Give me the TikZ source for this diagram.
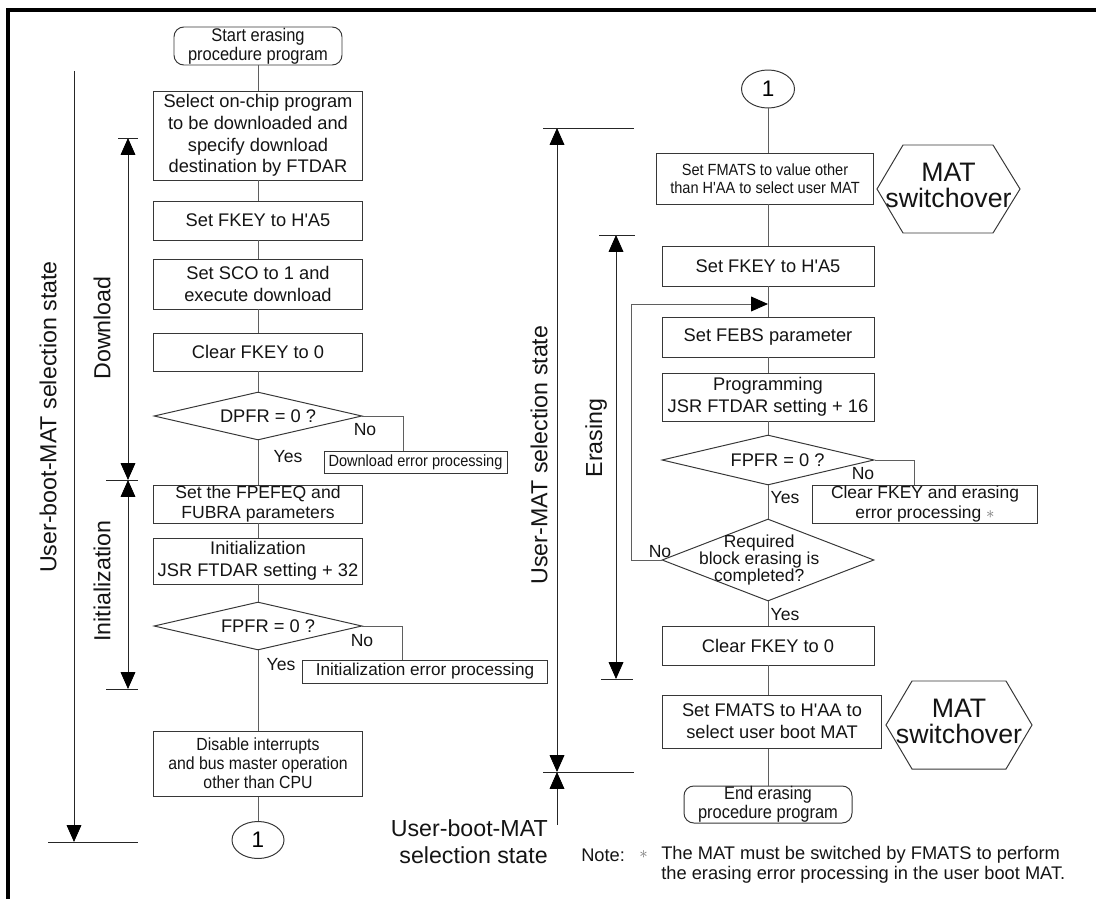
\documentclass[tikz,border=0pt]{standalone}
\usepackage{fontspec}
\setmainfont{Liberation Sans}[Ligatures=TeXOff]
\newfontfamily\narrowfont[FakeStretch=0.9,Ligatures=TeXOff]{Liberation Sans}
\usetikzlibrary{arrows.meta,shapes.geometric}

\definecolor{boxgray}{RGB}{55,55,55}
\definecolor{flowgray}{RGB}{95,95,95}
\definecolor{txtblack}{RGB}{20,20,20}

% one pixel of the reference
\newcommand\pxu{0.025cm}
\newcommand\boxtxt{\fontsize{13}{15.4}\selectfont}
\newcommand\bigtxt{\fontsize{16.5}{19.2}\selectfont}
\newcommand\hextxt{\fontsize{19}{18.5}\selectfont}

\tikzset{
  bw/.style={minimum width=#1*\pxu},
  bh/.style={minimum height=#1*\pxu},
  proc/.style={draw=boxgray, line width=0.7pt, rectangle, align=center,
    inner sep=0pt, font=\boxtxt, text=txtblack},
  term/.style={proc, rounded corners=7pt,
    font=\narrowfont\fontsize{13}{13.6}\selectfont},
  decide/.style={draw=boxgray, line width=0.7pt, diamond, aspect=4, inner sep=0pt},
  dtxt/.style={font=\boxtxt, align=center, inner sep=0pt, text=txtblack},
  conn/.style={draw=boxgray, line width=0.7pt, ellipse, inner sep=0pt,
    font=\fontsize{16}{16}\selectfont},
  flow/.style={draw=flowgray, line width=0.7pt},
  dim/.style={draw=black!85, line width=0.6pt},
  yn/.style={font=\fontsize{12.5}{12.5}\selectfont, inner sep=0pt, text=txtblack},
  side/.style={font=\bigtxt, rotate=90, inner sep=0pt, text=txtblack},
  >={Triangle[length=12pt,width=10.5pt,black]}
}

\begin{document}
\begin{tikzpicture}[x=0.025cm, y=-0.025cm]

  \useasboundingbox (0,0) rectangle (1096,899);

  % frame: only top and left edges
  \draw[line width=2.2pt] (8,899) -- (8,10) -- (1096,10);

  % left column
  \node[term, bw=168, bh=38] (start) at (258,46) {Start erasing\\procedure program};
  \node[proc, bw=209, bh=89] (selprog) at (258,135.5)
    {Select on-chip program\\to be downloaded and\\specify download\\destination by FTDAR};
  \node[proc, bw=209, bh=39] (fkeya) at (258,220.5) {Set FKEY to H'A5};
  \node[proc, bw=209, bh=50] (sco) at (258,284) {Set SCO to 1 and\\execute download};
  \node[proc, bw=209, bh=38] (clra) at (258,352) {Clear FKEY to 0};
  \node[decide, bw=208, bh=48] (dpfr) at (258,416) {};
  \node[dtxt] (dpfrtxt) at ([xshift=0.25cm]dpfr.center) {DPFR = 0 ?};
  \node[proc, bw=183, bh=22, font=\narrowfont\fontsize{11.5}{13}\selectfont]
    (dlerr) at (415.5,462) {Download error processing};
  \node[proc, bw=209, bh=38, font=\fontsize{12.5}{14.2}\selectfont]
    (fpefeq) at (258,504) {Set the FPEFEQ and\\FUBRA parameters};
  \node[proc, bw=209, bh=46] (initz) at (258,561) {Initialization\\JSR FTDAR setting + 32};
  \node[decide, bw=208, bh=48] (fpfra) at (258,626) {};
  \node[dtxt] (fpfratxt) at ([xshift=0.25cm]fpfra.center) {FPFR = 0 ?};
  \node[proc, bw=245, bh=23, font=\fontsize{12.2}{13}\selectfont]
    (initerr) at (425,671.5) {Initialization error processing};
  \node[proc, bw=209, bh=65, font=\narrowfont\fontsize{12.5}{13.5}\selectfont]
    (disint) at (258,763.5) {Disable interrupts\\and bus master operation\\other than CPU};
  \node[conn, bw=52, bh=37] (onea) at (258,840) {1};

  \draw[flow] (start) -- (selprog) -- (fkeya) -- (sco) -- (clra) -- (dpfr);
  \draw[flow] (dpfr) -- (fpefeq) -- (initz) -- (fpfra) -- (disint) -- (onea);
  \draw[flow] (dpfr.east) -| ([xshift=-0.3125cm]dlerr.north);
  \draw[flow] (fpfra.east) -| ([xshift=-0.5625cm]initerr.north);

  \node[yn] (dpfrno) at (365,430) {No};
  \node[yn] (dpfryes) at (288,457) {Yes};
  \node[yn] (fpfrano) at (362,641) {No};
  \node[yn] (fpfrayes) at (281,665) {Yes};

  % right column
  \node[conn, bw=53, bh=38] (oneb) at (768,89) {1};
  \node[proc, bw=217, bh=51, font=\narrowfont\fontsize{11.5}{12.8}\selectfont]
    (fmatsa) at (765,178.5) {Set FMATS to value other\\than H'AA to select user MAT};
  \node[proc, bw=212, bh=40] (fkeyb) at (768,266) {Set FKEY to H'A5};
  \node[proc, bw=212, bh=40] (febs) at (768,337) {Set FEBS parameter};
  \node[proc, bw=212, bh=48] (progr) at (768,397) {Programming\\JSR FTDAR setting + 16};
  \node[decide, bw=212, bh=50] (fpfrb) at (768,460) {};
  \node[dtxt] (fpfrbtxt) at ([xshift=0.24cm]fpfrb.center) {FPFR = 0 ?};
  \node[proc, bw=225, bh=38, font=\fontsize{12.4}{13.7}\selectfont]
    (erserr) at (925,504) {Clear FKEY and erasing\\error processing {\color{black!55}$\ast$}};
  \node[decide, bw=212, bh=82] (blkdone) at (768,560) {};
  \node[dtxt, font=\fontsize{12.4}{11.9}\selectfont] (blkdonetxt)
    at ([xshift=-0.22cm]blkdone.center) {Required\\block erasing is\\completed?};
  \node[proc, bw=212, bh=39] (clrb) at (768,645.5) {Clear FKEY to 0};
  \node[proc, bw=219, bh=53] (fmatsb) at (772,721.5) {Set FMATS to H'AA to\\select user boot MAT};
  \node[term, bw=168, bh=37] (endp) at (768,804.5) {End erasing\\procedure program};

  \draw[flow] (oneb) -- (oneb |- fmatsa.north);
  \draw[flow] (fmatsa.south -| oneb) -- (fkeyb) -- (febs) -- (progr) -- (fpfrb);
  \draw[flow] (fpfrb) -- (blkdone) -- (clrb) -- (clrb |- fmatsb.north);
  \draw[flow] (fmatsb.south -| oneb) -- (endp);
  \draw[flow] (fpfrb.east) -| ([xshift=-0.275cm]erserr.north);

  % loop back for the next block
  \coordinate (merge) at (768,304);
  \draw[flow, ->] (blkdone.west) -- ++(-30,0) |- (merge);

  \node[yn] (fpfrbno) at (863,474) {No};
  \node[yn] (fpfrbyes) at (785,498) {Yes};
  \node[yn] (blkno) at (660,552) {No};
  \node[yn] (blkyes) at (785,615) {Yes};

  % mat switchover marks
  \node[dtxt, font=\hextxt] (swa) at (948.5,185) {MAT\\switchover};
  \draw[boxgray, line width=0.7pt]
    (877,189) -- (903,145) -- (993,145) -- (1020,189) -- (993,233) -- (903,233) -- cycle;
  \node[dtxt, font=\hextxt] (swb) at (959,721) {MAT\\switchover};
  \draw[boxgray, line width=0.7pt]
    (886,725) -- (912,681) -- (1006,681) -- (1032,725) -- (1006,769) -- (912,769) -- cycle;

  % state ranges, left
  \coordinate (ubtop) at (74,71);
  \coordinate (ubbot) at (74,842);
  \coordinate (dltop) at (128,138);
  \coordinate (dlbot) at (128,480);
  \coordinate (inbot) at (128,689);
  \draw[dim, ->] (ubtop) -- (ubbot);
  \draw[dim] (ubbot) ++(-26,0) -- ++(89.5,0);
  \draw[dim, <->] (dltop) -- (dlbot);
  \draw[dim, <->] (dlbot) -- (inbot);
  \draw[dim] (dltop) ++(-10,0) -- ++(19.5,0);
  \draw[dim] (dlbot) ++(-22,0) -- ++(31.5,0);
  \draw[dim] (inbot) ++(-22,0) -- ++(31.5,0);
  \node[side] (ubstate) at (48,417) {User-boot-MAT selection state};
  \node[side] (dllbl) at (102,328) {Download};
  \node[side] (inlbl) at (102,581) {Initialization};

  % state ranges, right
  \coordinate (umtop) at (557,128);
  \coordinate (umbot) at (557,772);
  \coordinate (umend) at (557,825);
  \coordinate (ertop) at (616,235);
  \coordinate (erbot) at (616,679);
  \draw[dim, <->] (umtop) -- (umbot);
  \draw[dim, <-] (umbot) -- (umend);
  \draw[dim] (umtop) ++(-14,0) -- ++(91,0);
  \draw[dim] (umbot) ++(-14,0) -- ++(91,0);
  \draw[dim, <->] (ertop) -- (erbot);
  \draw[dim] (ertop) ++(-17,0) -- ++(36,0);
  \draw[dim] (erbot) ++(-15,0) -- ++(32,0);
  \node[side] (umstate) at (539,455) {User-MAT selection state};
  \node[side] (erlbl) at (596,438) {Erasing};
  \node[font=\bigtxt, align=right, anchor=east, inner sep=0pt, text=txtblack]
    (ubstateb) at (548,841.5) {User-boot-MAT\\selection state};

  % footnote
  \node[font=\fontsize{13}{14.2}\selectfont, anchor=west, inner sep=0pt, text=txtblack]
    (notelbl) at (581,855) {Note:};
  \node[font=\fontsize{13}{14.2}\selectfont, anchor=west, inner sep=0pt, text=black!55]
    (notestar) at (639,855) {$\ast$};
  \node[font=\fontsize{13}{14.2}\selectfont, anchor=west, align=left, inner sep=0pt,
    text=txtblack] (notetxt) at (661,865)
    {The MAT must be switched by FMATS to perform\\the erasing error processing in the user boot MAT.};

\end{tikzpicture}
\end{document}
